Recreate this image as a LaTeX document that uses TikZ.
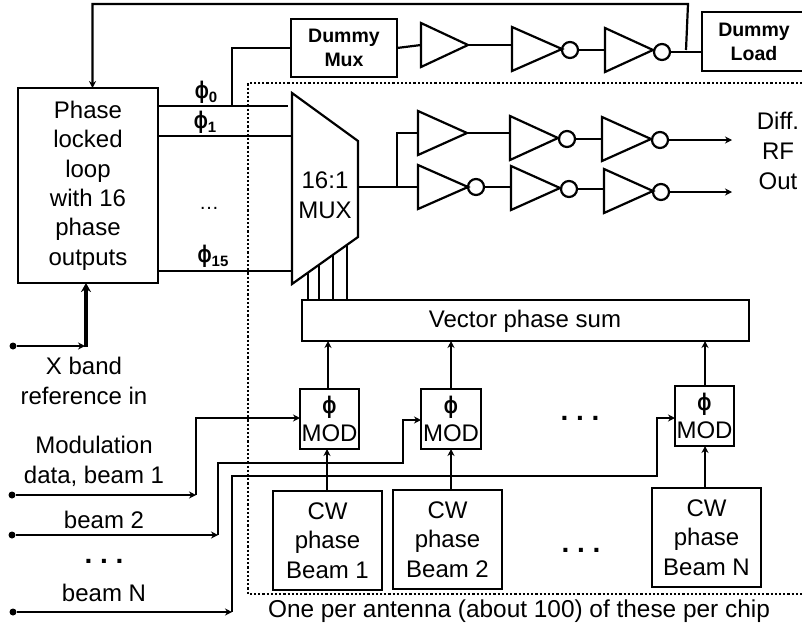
\documentclass[tikz,border=0pt]{standalone}
\usepackage{fontspec}
\usepackage{graphicx}
\setmainfont{Liberation Sans}
\usetikzlibrary{arrows.meta,shapes.geometric}
\newcommand{\phiglyph}{\textbf{\scalebox{.78}[1]{ϕ}}}
\newcommand{\phisub}[1]{\phiglyph\textbf{\raisebox{-4pt}{\fontsize{15}{15}\selectfont #1}}}
\newcommand{\gapdots}{.\hspace{7.7pt}.\hspace{7.7pt}.}
\begin{document}
\begin{tikzpicture}[
  x=1pt, y=-1pt,
  box/.style={
    draw, line width=2.2pt, rectangle, inner sep=0pt, outer sep=0pt,
    font=\fontsize{24}{29.4}\selectfont, align=center
  },
  dummybox/.style={
    box, font=\fontsize{19.5}{24}\selectfont\bfseries
  },
  modbox/.style={
    box, minimum height=60pt, font=\fontsize{24}{28}\selectfont
  },
  cwbox/.style={
    box, minimum width=109pt, minimum height=99pt
  },
  label/.style={
    inner sep=0pt, outer sep=0pt, align=center,
    font=\fontsize{24}{30}\selectfont
  },
  dotlabel/.style={
    label, font=\bfseries\fontsize{28}{28}\selectfont
  },
  amp/.style={
    draw, line width=2.2pt, isosceles triangle, isosceles triangle stretches,
    minimum height=48pt, minimum width=44pt, inner sep=0pt, outer sep=0pt,
    anchor=lower side
  },
  bubble/.style={
    draw, line width=2.2pt, circle, minimum size=16pt, inner sep=0pt, outer sep=0pt
  },
  pin/.style={
    fill, circle, minimum size=7pt, inner sep=0pt, outer sep=0pt
  },
  wire/.style={line width=2.2pt},
  arrowwire/.style={
    line width=2.2pt, -{Stealth[length=7pt,width=7pt]}
  },
]

\useasboundingbox (0,0) rectangle (802,627);

\node[box, minimum width=140pt, minimum height=195pt] (pll) at (88,185.5) {
  Phase\\ locked\\ loop\\ with 16\\ phase\\ outputs
};
\node[dummybox, minimum width=106pt, minimum height=58pt] (dmux) at (344,48) {Dummy\\ Mux};
\node[dummybox, minimum width=104pt, minimum height=59pt, anchor=west] (dload) at (702,41.5) {Dummy\\ Load};

% dummy chain
\node[amp, minimum height=47pt] (da) at (421,45) {};
\node[amp, minimum height=50pt] (db) at (512,49) {};
\node[bubble] (dbb) at (570,50) {};
\node[amp] (dc) at (605,50) {};
\node[bubble] (dcb) at (662,52) {};
\draw[wire] (dmux.east) -- (da.lower side);
\draw[wire] (da.apex) -- (da.apex -| db.lower side);
\draw[wire] (dbb.east) -- (dbb.east -| dc.lower side);
\draw[wire] (dcb.east) -- (dload.west |- dcb.east);

% top row out
\node[amp, minimum height=49pt] (ra) at (418,133) {};
\node[amp] (rb) at (510,138) {};
\node[bubble] (rbb) at (567,139) {};
\node[amp, minimum height=49pt] (rc) at (602,139) {};
\node[bubble] (rcb) at (660,140) {};
\coordinate (routa) at (732,140);
\draw[wire] (ra.apex) -- (ra.apex -| rb.lower side);
\draw[wire] (rbb.east) -- (rbb.east -| rc.lower side);
\draw[arrowwire] (rcb.east) -- (routa);

% bottom row out
\node[amp, minimum height=50pt] (sa) at (418,187) {};
\node[bubble] (sab) at (476,187) {};
\node[amp, minimum height=49pt] (sb) at (511,188) {};
\node[bubble] (sbb) at (569,189) {};
\node[amp, minimum height=49pt] (sc) at (604,191) {};
\node[bubble] (scb) at (661,192) {};
\coordinate (routb) at (732,192);
\draw[wire] (sab.east) -- (sab.east -| sb.lower side);
\draw[wire] (sbb.east) -- (sbb.east -| sc.lower side);
\draw[arrowwire] (scb.east) -- (routb);

\node[label, align=center] (rflabel) at (778,151) {Diff.\\ RF\\ Out};

% dotted chip outline
\coordinate (dottr) at (802,83);
\coordinate (dotbr) at (802,594);
\draw[line width=2.2pt, dotted] (dottr) -| (248,594) -- (dotbr);

% mux
\coordinate (mtl) at (292,93);
\coordinate (mtr) at (358,141);
\coordinate (mbr) at (358,237);
\coordinate (mbl) at (292,284);
\draw[line width=2.2pt] (mtl) -- (mtr) -- (mbr) -- (mbl) -- cycle;
\node[label] (muxlabel) at (325,195) {16:1\\ MUX};
\coordinate (muxout) at (358,187);
\coordinate (muxjoin) at (397,187);
\draw[wire] (muxout) -- (muxjoin) -- (sa.lower side);
\draw[wire] (muxjoin) -- (muxjoin |- ra.lower side) -- (ra.lower side);

% pll outputs
\coordinate (ph0) at (288,106);
\coordinate (ph1) at (292,136);
\coordinate (ph15) at (292,271);
\draw[wire] (pll.east |- ph0) -- (ph0);
\draw[wire] (pll.east |- ph1) -- (ph1);
\draw[wire] (pll.east |- ph15) -- (ph15);
\draw[wire] (232,106) |- (dmux.west);
\node[label] (phz) at (206,92) {\phisub{0}};
\node[label] (pho) at (205,122) {\phisub{1}};
\node[label] (phf) at (213,256) {\phisub{15}};
\node[label, font=\fontsize{20}{24}\selectfont] (phd) at (209,208) {…};

% feedback
\coordinate (fbcorner) at (688,4);
\coordinate (fbend) at (686,50);
\draw[arrowwire] (fbend) -- (fbcorner) -| (pll.north -| 92.5,0);

% vector sum
\node[box, minimum width=447pt, minimum height=41pt] (vsum) at (525.5,320.5) {};
\node[label] (vsumlabel) at (525,321) {Vector phase sum};
\foreach \x/\y in {308/273, 319/265, 333/255, 347/245} {
  \draw[wire] (\x,\y) -- (\x,300);
}

% mod blocks
\node[modbox, minimum width=59pt] (moda) at (329.5,419) {\phiglyph\\ MOD};
\node[modbox, minimum width=60pt] (modb) at (451,419) {\phiglyph\\ MOD};
\node[modbox, minimum width=59pt] (modn) at (704.5,416) {\phiglyph\\ MOD};

\node[cwbox] (cwa) at (327.5,540.5) {CW\\ phase\\ Beam 1};
\node[cwbox] (cwb) at (447.5,539.5) {CW\\ phase\\ Beam 2};
\node[cwbox] (cwn) at (706.5,537.5) {CW\\ phase\\ Beam N};

\draw[arrowwire] (cwa.north -| 327,0) -- (moda.south -| 327,0);
\draw[arrowwire] (cwb.north -| 451,0) -- (modb.south -| 451,0);
\draw[arrowwire] (cwn.north -| 705,0) -- (modn.south -| 705,0);
\draw[arrowwire] (moda.north -| 328,0) -- (vsum.south -| 328,0);
\draw[arrowwire] (modb.north -| 451,0) -- (vsum.south -| 451,0);
\draw[arrowwire] (modn.north -| 705,0) -- (vsum.south -| 705,0);

\node[dotlabel] (dotsa) at (580,418) {\gapdots};
\node[dotlabel] (dotsb) at (581,550) {\gapdots};

% left inputs
\node[pin] (xpin) at (13,346) {};
\node[pin] (apin) at (12,495) {};
\node[pin] (bpin) at (12,535) {};
\node[pin] (npin) at (13,612) {};
\coordinate (xend) at (85,346);
\coordinate (aend) at (196,495);
\coordinate (bend) at (218,535);
\coordinate (nend) at (232,612);
\draw[arrowwire] (xpin) -- (xend);
\draw[arrowwire] (apin) -- (aend);
\draw[arrowwire] (bpin) -- (bend);
\draw[arrowwire] (npin) -- (nend);
\draw[line width=3.5pt, -{Stealth[length=9pt,width=10pt]}] (86,347) -- (pll.south -| 86,0);

\draw[arrowwire] (aend) |- (moda.west |- 0,418);
\draw[arrowwire] (bend) |- (403,463) |- (modb.west |- 0,420);
\draw[arrowwire] (nend) |- (657,476) |- (modn.west |- 0,418);

\node[label] (xlabel) at (84,381) {X band\\ reference in};
\node[label] (alabel) at (94,461) {Modulation\\ data, beam 1};
\node[label] (blabel) at (104,520) {beam 2};
\node[dotlabel] (dotsc) at (104,561) {\gapdots};
\node[label] (nlabel) at (104,593) {beam N};
\node[label, font=\fontsize{24.4}{30}\selectfont] (chiplabel) at (519,611) {One per antenna (about 100) of these per chip};

\end{tikzpicture}
\end{document}
